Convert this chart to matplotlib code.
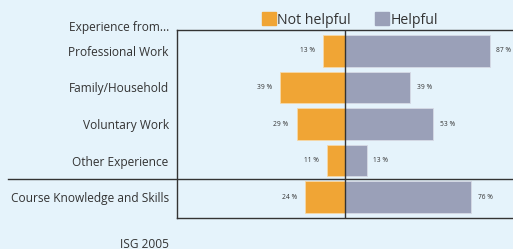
import matplotlib.pyplot as plt
from matplotlib.patches import Patch

# data
categories = ["Professional Work", "Family/Household", "Voluntary Work",
              "Other Experience", "Course Knowledge and Skills"]
not_helpful = [13, 39, 29, 11, 24]
helpful = [87, 39, 53, 13, 76]

bg = "#E5F3FB"
orange = "#F0A535"
grey = "#9AA0B8"
ink = "#333333"

plt.rcParams["font.family"] = ["Open Sans", "DejaVu Sans"]

fig = plt.figure(figsize=(5.13, 2.49), dpi=100, facecolor=bg)
ax = fig.add_axes([177 / 513, 31 / 249, 336 / 513, 188 / 249], facecolor=bg)

y = list(range(len(categories)))
ax.barh(y, [-v for v in not_helpful], height=0.85, color=orange,
        edgecolor="#F7D9A8", linewidth=0.6)
ax.barh(y, helpful, height=0.85, color=grey,
        edgecolor="#D6DAE6", linewidth=0.6)

for i in y:
    ax.text(-not_helpful[i] - 5, i, f"{not_helpful[i]} %", ha="right",
            va="center", fontsize=4.8, color=ink)
    ax.text(helpful[i] + 4, i, f"{helpful[i]} %", ha="left",
            va="center", fontsize=4.8, color=ink)

ax.set_xlim(-101, 101)
ax.set_ylim(4.575, -0.575)
ax.axvline(0, color=ink, lw=1)
# separator between experience rows and course row
ax.plot([-0.503, 1], [3.5, 3.5], color=ink, lw=1,
        transform=ax.get_yaxis_transform(), clip_on=False)

ax.set_yticks(y)
ax.set_yticklabels(categories, fontsize=8.6, color=ink)
ax.tick_params(axis="y", length=0, pad=6)
ax.set_xticks([])
ax.spines["right"].set_visible(False)
for s in ["top", "left", "bottom"]:
    ax.spines[s].set_color(ink)
    ax.spines[s].set_linewidth(1)

ax.text(-0.024, -0.63, "Experience from...", transform=ax.get_yaxis_transform(),
        ha="right", va="center", fontsize=8.6, color=ink)
fig.text(169 / 513, 1 - 244 / 249, "ISG 2005", ha="right", va="center",
         fontsize=8.6, color=ink)

handles = [Patch(color=orange, label="Not helpful"),
           Patch(color=grey, label="Helpful")]
fig.legend(handles=handles, loc="center left", ncol=2, frameon=False,
           bbox_to_anchor=(256 / 513, 1 - 20 / 249), fontsize=10.2,
           handlelength=1.0, handleheight=1.0, handletextpad=0.1,
           columnspacing=1.7, borderaxespad=0, labelcolor=ink)

fig.savefig("out.png", dpi=100, facecolor=bg)
